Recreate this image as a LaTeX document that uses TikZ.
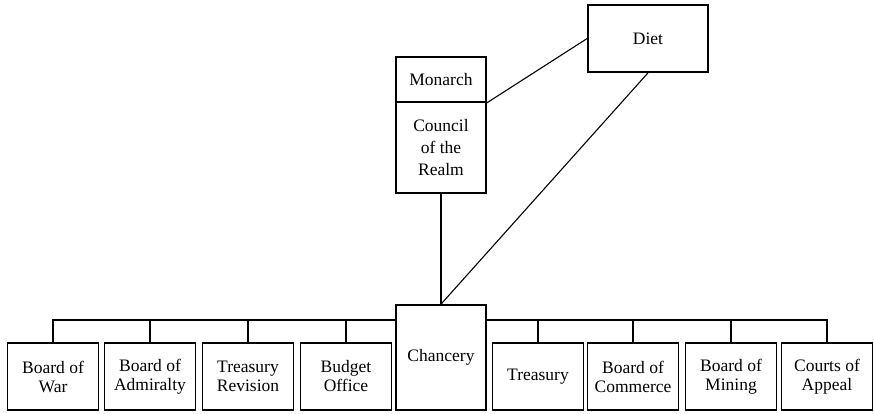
\documentclass[tikz,border=0pt]{standalone}
\usepackage{fontspec}
\setmainfont{Liberation Serif}
\usepackage{tikz}
\usetikzlibrary{calc}

\begin{document}
\begin{tikzpicture}[x=1pt,y=-1pt,
    box/.style={draw,line width=1.7pt,inner sep=0pt,minimum width=91pt,
      minimum height=67pt,align=center,font=\fontsize{17.5}{19}\selectfont},
    link/.style={line width=1.1pt}]
  \useasboundingbox (0,0) rectangle (874,413);
  \node (diet) at (648,38.5) [box,minimum width=120pt] {Diet};
  \node (monarch) at (441,79.5) [box,minimum width=90pt,minimum height=45pt] {Monarch};
  \node (council) at (441,147.5) [box,minimum width=90pt,minimum height=91pt,
    font=\fontsize{17.5}{22}\selectfont] {Council\\of the\\Realm};
  \node (chancery) at (441,357.5) [box,minimum width=90pt,minimum height=105pt] {Chancery};
  \node (war) at (53,376.5) [box] {Board of\\War};
  \node (admiralty) at (150,376.5) [box] {Board of\\Admiralty};
  \node (revision) at (248,376.5) [box] {Treasury\\Revision};
  \node (budget) at (346,376.5) [box] {Budget\\Office};
  \node (treasury) at (538,376.5) [box] {Treasury};
  \node (commerce) at (633,376.5) [box] {Board of\\Commerce};
  \node (mining) at (731,376.5) [box] {Board of\\Mining};
  \node (appeal) at (827,376.5) [box] {Courts of\\Appeal};
  \coordinate (lbus) at (396,320);
  \coordinate (rbus) at (486,320);
  \draw[link] (monarch.south east) -- (diet.west);
  \draw[link] (diet.south) -- (chancery.north);
  \draw[link] (council.south) -- (chancery.north);
  \foreach \b in {war,admiralty,revision,budget}
    \draw[link] (\b.north) |- (lbus);
  \foreach \b in {treasury,commerce,mining,appeal}
    \draw[link] (\b.north) |- (rbus);
\end{tikzpicture}
\end{document}
